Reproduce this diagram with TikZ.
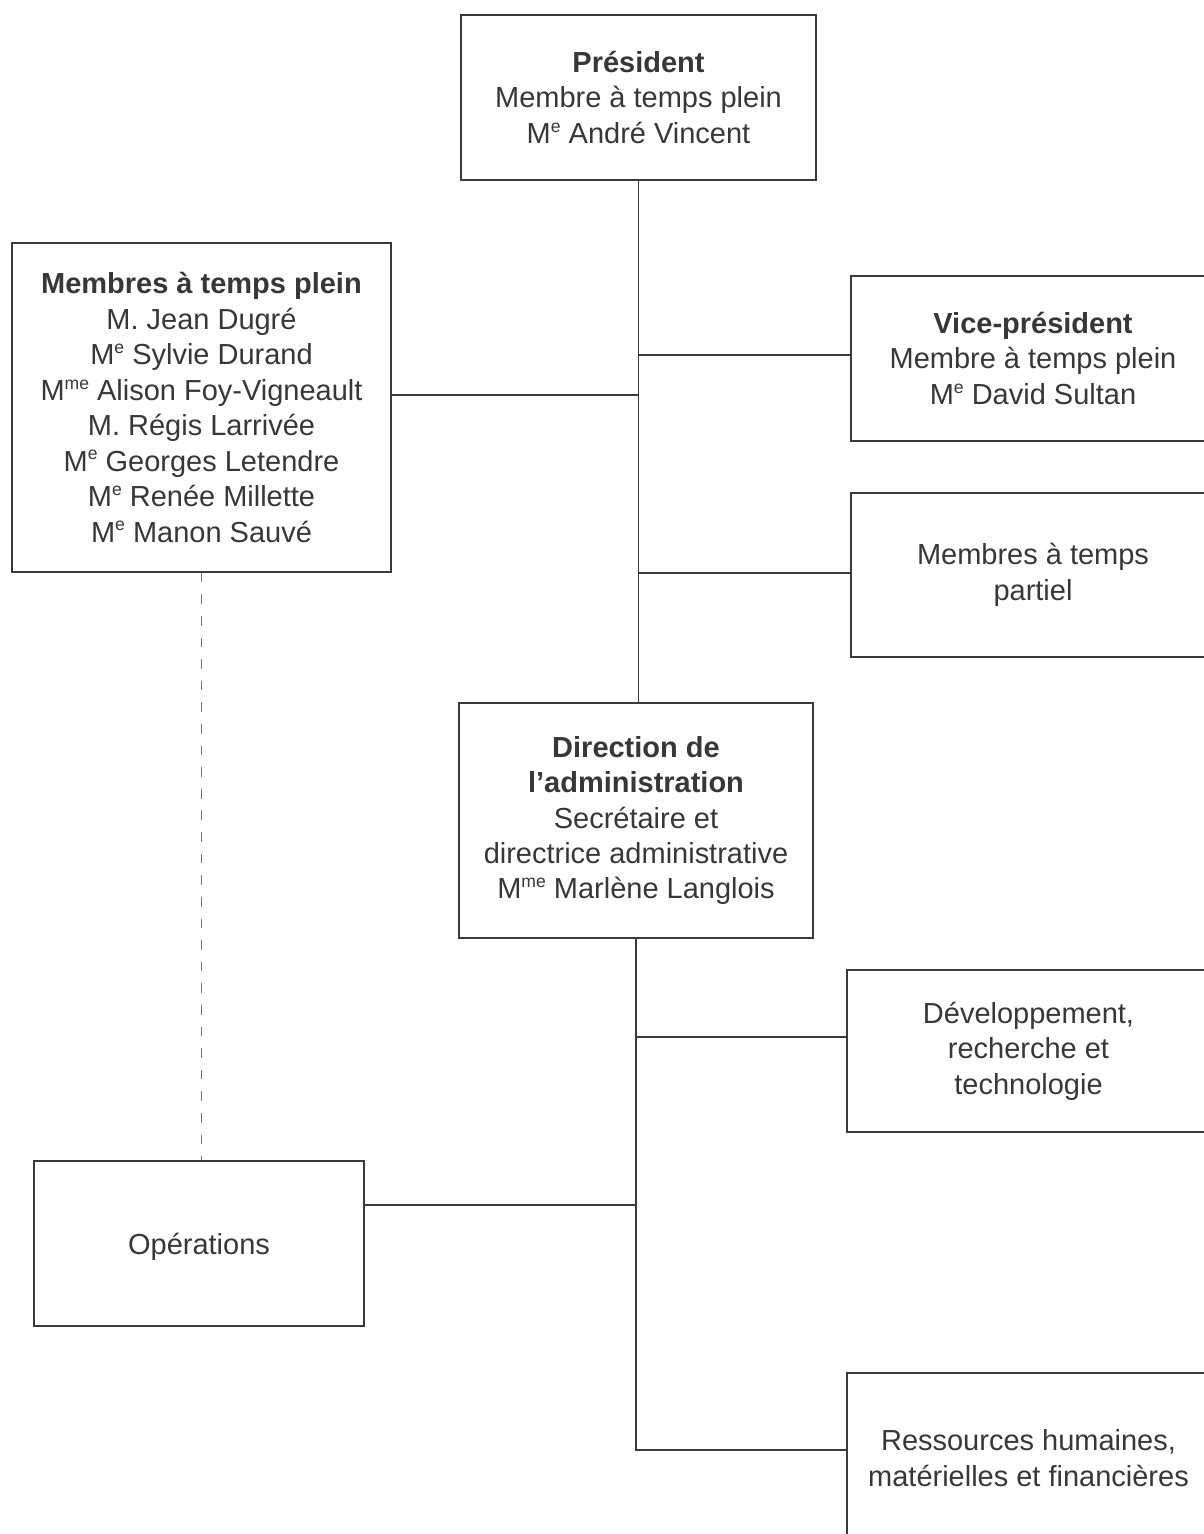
\documentclass[tikz,border=0pt]{standalone}
\usepackage{fontspec}
\setmainfont{Liberation Sans}
\usepackage{tikz}
\definecolor{boxline}{RGB}{58,58,60}
\definecolor{boxtext}{RGB}{55,55,55}
\definecolor{dashline}{RGB}{110,120,118}
\tikzstyle{every path}=[line width=0.9pt]
\tikzstyle{orgbox}=[draw=boxline, text=boxtext, align=center, inner sep=0pt,
    font=\fontsize{16.5}{20.2}\selectfont, execute at begin node={\rule{0pt}{15.5pt}}]
\tikzstyle{link}=[draw=boxline]
\newcommand{\msup}[1]{\raisebox{6.4pt}{\fontsize{10}{10}\selectfont #1}}
\newcommand{\Me}{M\msup{e}}
\newcommand{\Mme}{M\msup{me}}
\usetikzlibrary{positioning}

\begin{document}
\begin{tikzpicture}[x=0.02cm, y=-0.02cm]
            \useasboundingbox (0,0) rectangle (1203,1534);
            % upper part
            \node[orgbox, minimum width=7.1cm, minimum height=3.3cm] (pres) at (638.5, 97.5)
                {\textbf{Président}\\Membre à temps plein\\\Me{} André Vincent};
            \node[orgbox, minimum width=7.58cm, minimum height=6.58cm] (mtp) at (201.5, 407.5)
                {\textbf{Membres à temps plein}\\M. Jean Dugré\\\Me{} Sylvie Durand\\\Mme{} Alison Foy-Vigneault\\M. Régis Larrivée\\\Me{} Georges Letendre\\\Me{} Renée Millette\\\Me{} Manon Sauvé};
            \node[orgbox, minimum width=7.28cm, minimum height=3.3cm] (vp) at (1033, 358.5)
                {\textbf{Vice-président}\\Membre à temps plein\\\Me{} David Sultan};
            \node[orgbox, minimum width=7.28cm, minimum height=3.28cm] (mpart) at (1033, 575)
                {Membres à temps\\partiel};
            % lower part
            \node[orgbox, minimum width=7.08cm, minimum height=4.7cm] (dir) at (636, 820.5)
                {\textbf{Direction de}\\\textbf{l’administration}\\Secrétaire et\\directrice administrative\\\Mme{} Marlène Langlois};
            \node[orgbox, minimum width=7.26cm, minimum height=3.24cm] (drt) at (1028.5, 1051)
                {Développement,\\recherche et\\technologie};
            \node[orgbox, minimum width=6.6cm, minimum height=3.3cm] (ops) at (199, 1243.5)
                {Opérations};
            \node[orgbox, minimum width=7.26cm, minimum height=3.4cm] (rh) at (1028.5, 1458)
                {Ressources humaines,\\matérielles et financières};
            % junctions on the trunks
            \coordinate (jmtp) at (638.5, 395);
            \coordinate (jvp) at (638.5, 355);
            \coordinate (jpart) at (638.5, 573);
            \coordinate (jdrt) at (636, 1037);
            \coordinate (jops) at (636, 1205);
            \coordinate (jrh) at (636, 1450);
            % connectors
            \draw[link] (pres.south) -- (pres.south |- dir.north);
            \draw[link] (mtp.east |- jmtp) -- (jmtp);
            \draw[link] (jvp) -- (vp.west |- jvp);
            \draw[link] (jpart) -- (mpart.west |- jpart);
            \draw[link] (dir.south) -- (jrh) -- (rh.west |- jrh);
            \draw[link] (jdrt) -- (drt.west |- jdrt);
            \draw[link] (ops.east |- jops) -- (jops);
            \draw[draw=dashline, dash pattern=on 5.5pt off 6.8pt] (mtp.south) -- (mtp.south |- ops.north);
        \end{tikzpicture}
\end{document}
